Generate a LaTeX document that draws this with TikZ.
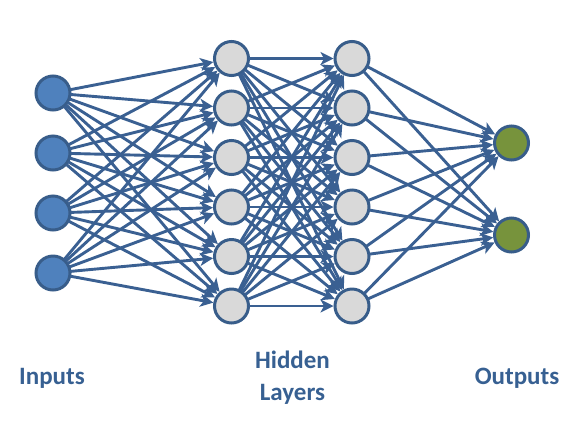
\documentclass[tikz,border=0pt]{standalone}
\usepackage{fontspec}
\setmainfont{Carlito}
\usetikzlibrary{arrows.meta}
\definecolor{edgeblue}{RGB}{58,96,146}
\definecolor{rimblue}{RGB}{56,93,138}
\definecolor{inblue}{RGB}{79,129,189}
\definecolor{hidgray}{RGB}{217,217,217}
\definecolor{outgreen}{RGB}{119,147,60}
\definecolor{txtblue}{RGB}{55,96,146}
\tikzset{
  neuron/.style={circle, draw=rimblue, line width=3pt, minimum size=34pt, inner sep=0pt},
  inneuron/.style={neuron, fill=inblue},
  hidneuron/.style={neuron, fill=hidgray},
  outneuron/.style={neuron, fill=outgreen},
  conn/.style={draw=edgeblue, line width=2.9pt, -{Stealth[length=13pt,width=13pt,inset=3.5pt]}, shorten <=-1pt},
  lbl/.style={text=txtblue, font=\bfseries\fontsize{25}{32}\selectfont, align=center}
}
\begin{document}
\begin{tikzpicture}[x=1pt,y=-1pt]
\useasboundingbox (0,0) rectangle (583,432);
% input layer
\foreach \i/\y in {1/93,2/153,3/213,4/273}
  \node[inneuron] (in\i) at (53,\y) {};
% hidden layers
\foreach \i/\y in {1/58.5,2/108,3/157.5,4/207,5/256.5,6/306}{
  \node[hidneuron] (ha\i) at (231.5,\y) {};
  \node[hidneuron] (hb\i) at (352,\y) {};
}
% outputs
\foreach \i/\y in {1/143,2/235}
  \node[outneuron] (out\i) at (511.5,\y) {};
% connections
\foreach \i in {1,...,4}
  \foreach \j in {1,...,6}
    \draw[conn] (in\i) -- (ha\j);
\foreach \i in {1,...,6}
  \foreach \j in {1,...,6}
    \draw[conn] (ha\i) -- (hb\j);
\foreach \i in {1,...,6}
  \foreach \j in {1,2}
    \draw[conn] (hb\i) -- (out\j);
% labels
\node[lbl, anchor=base] (linputs) at (52,384) {Inputs};
\node[lbl, anchor=base] (lhidden) at (292.5,400) {Hidden\\Layers};
\node[lbl, anchor=base] (loutputs) at (517,384) {Outputs};
\end{tikzpicture}
\end{document}
